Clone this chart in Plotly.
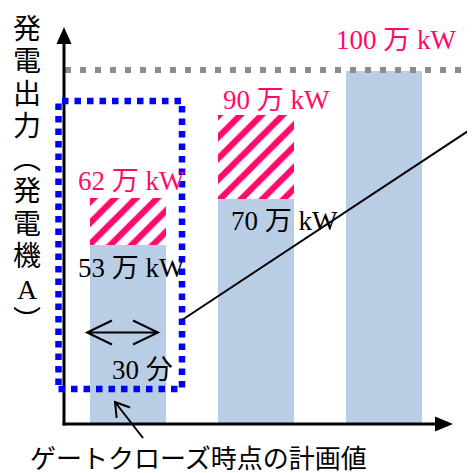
import math
import plotly.graph_objects as go

# ---------------- data ----------------
bar_pos = [0, 1, 2]                      # three bars
base_heights = [50.7, 63.7, 100.0]       # light-blue part (schematic heights as drawn)
extra_heights = [13.3, 23.8, 0.0]        # hatched part on top
label_values = [53, 62, 70, 90, 100]     # 万 kW labels
label_colors = ["black", "pink", "black", "pink", "pink"]
ylabel_chars = ["発", "電", "出", "力", "︵", "発", "電", "機", "A", "︶"]
span_text = "30 分"
bottom_text = "ゲートクローズ時点の計画値"

W, H = 475, 473
OFF = 8  # page body margin
PINK = "#FF0A6A"
BLUE_BAR = "#B9CDE4"
FONT = "Liberation Serif, Noto Sans CJK JP"


def px(x):
    return (x - OFF) / W


def py(y):
    return 1 - (y - OFF) / H


fig = go.Figure()
fig.add_trace(go.Bar(x=bar_pos, y=base_heights, width=0.594,
                     marker=dict(color=BLUE_BAR, line=dict(width=0)),
                     hoverinfo="skip"))
fig.add_trace(go.Bar(x=bar_pos, y=extra_heights, width=0.594,
                     marker=dict(color=PINK, line=dict(width=0),
                                 pattern=dict(shape="/", size=15, solidity=0.42,
                                              fgcolor=PINK, bgcolor="white",
                                              fillmode="replace")),
                     hoverinfo="skip"))

shapes = []
# gray dotted reference line at the top value
shapes.append(dict(type="line", xref="paper", yref="paper",
                   x0=px(65), x1=px(490), y0=py(70), y1=py(70),
                   line=dict(color="#8C8C8C", width=6, dash="6px,9px")))
# axes
shapes.append(dict(type="line", xref="paper", yref="paper",
                   x0=px(64), x1=px(64), y0=py(425.5), y1=py(40),
                   line=dict(color="black", width=3)))
shapes.append(dict(type="line", xref="paper", yref="paper",
                   x0=px(62.5), x1=px(440), y0=py(424), y1=py(424),
                   line=dict(color="black", width=3)))
shapes.append(dict(type="path", xref="paper", yref="paper",
                   path=f"M {px(64)},{py(27)} L {px(56.5)},{py(44)} L {px(71.5)},{py(44)} Z",
                   fillcolor="black", line=dict(color="black", width=0)))
shapes.append(dict(type="path", xref="paper", yref="paper",
                   path=f"M {px(453)},{py(424)} L {px(435)},{py(416.5)} L {px(435)},{py(431.5)} Z",
                   fillcolor="black", line=dict(color="black", width=0)))
# blue dotted box
shapes.append(dict(type="rect", xref="paper", yref="paper",
                   x0=px(58.5), x1=px(182), y0=py(389), y1=py(101),
                   line=dict(color="#0000FF", width=6.5, dash="6.5px,6px")))
# connector line
shapes.append(dict(type="line", xref="paper", yref="paper",
                   x0=px(182), y0=py(320), x1=px(500), y1=py(110),
                   line=dict(color="black", width=2)))
# double arrow (30 min)
ax0, ax1, ay = 87, 158, 332.5
shapes.append(dict(type="path", xref="paper", yref="paper",
                   path=(f"M {px(ax0)},{py(ay)} L {px(ax1)},{py(ay)} "
                         f"M {px(ax0 + 25)},{py(ay - 12)} L {px(ax0)},{py(ay)} L {px(ax0 + 25)},{py(ay + 12)} "
                         f"M {px(ax1 - 25)},{py(ay - 12)} L {px(ax1)},{py(ay)} L {px(ax1 - 25)},{py(ay + 12)}"),
                   line=dict(color="black", width=2)))
# pointer arrow to the gate-closure bar
tx, ty, hx, hy = 143, 438, 115, 402
d = math.hypot(hx - tx, hy - ty)
ux, uy = (tx - hx) / d, (ty - hy) / d
arms = []
for ang in (math.radians(32), math.radians(-32)):
    rx = ux * math.cos(ang) - uy * math.sin(ang)
    ry = ux * math.sin(ang) + uy * math.cos(ang)
    arms.append((hx + 16 * rx, hy + 16 * ry))
shapes.append(dict(type="path", xref="paper", yref="paper",
                   path=(f"M {px(tx)},{py(ty)} L {px(hx)},{py(hy)} "
                         f"M {px(arms[0][0])},{py(arms[0][1])} L {px(hx)},{py(hy)} "
                         f"L {px(arms[1][0])},{py(arms[1][1])}"),
                   line=dict(color="black", width=2)))

annotations = []
label_xy = [(131, 268), (131, 181), (284, 221), (276, 100), (396, 40)]
for v, c, (lx, ly) in zip(label_values, label_colors, label_xy):
    annotations.append(dict(x=px(lx), y=py(ly), xref="paper", yref="paper",
                            text=f"{v} 万 kW", showarrow=False,
                            xanchor="center", yanchor="middle",
                            font=dict(family=FONT, size=27,
                                      color=PINK if c == "pink" else "black")))
annotations.append(dict(x=px(142), y=py(370), xref="paper", yref="paper",
                        text=span_text, showarrow=False,
                        xanchor="center", yanchor="middle",
                        font=dict(family=FONT, size=27, color="black")))
annotations.append(dict(x=px(198), y=py(459), xref="paper", yref="paper",
                        text=bottom_text, showarrow=False,
                        xanchor="center", yanchor="middle",
                        font=dict(family=FONT, size=26, color="black")))
for i, ch in enumerate(ylabel_chars):
    annotations.append(dict(x=px(27), y=py(29 + i * 32.5), xref="paper", yref="paper",
                            text=ch, showarrow=False,
                            xanchor="center", yanchor="middle",
                            font=dict(family=FONT, size=28, color="black")))

# bar axes: reference pixel = 128 + 128*x ; = 424 - 3.53*v  (shifted by page margin)
x_lo = (0 + OFF - 128) / 128
x_hi = (W + OFF - 128) / 128
y_hi = (424 - OFF) / 3.53
y_lo = (424 - OFF - H) / 3.53

fig.update_layout(
    width=W, height=H,
    margin=dict(l=0, r=0, t=0, b=0),
    paper_bgcolor="white", plot_bgcolor="white",
    barmode="stack", showlegend=False,
    xaxis=dict(range=[x_lo, x_hi], visible=False, fixedrange=True),
    yaxis=dict(range=[y_lo, y_hi], visible=False, fixedrange=True),
    shapes=shapes, annotations=annotations,
)

fig.write_html("out.html")
